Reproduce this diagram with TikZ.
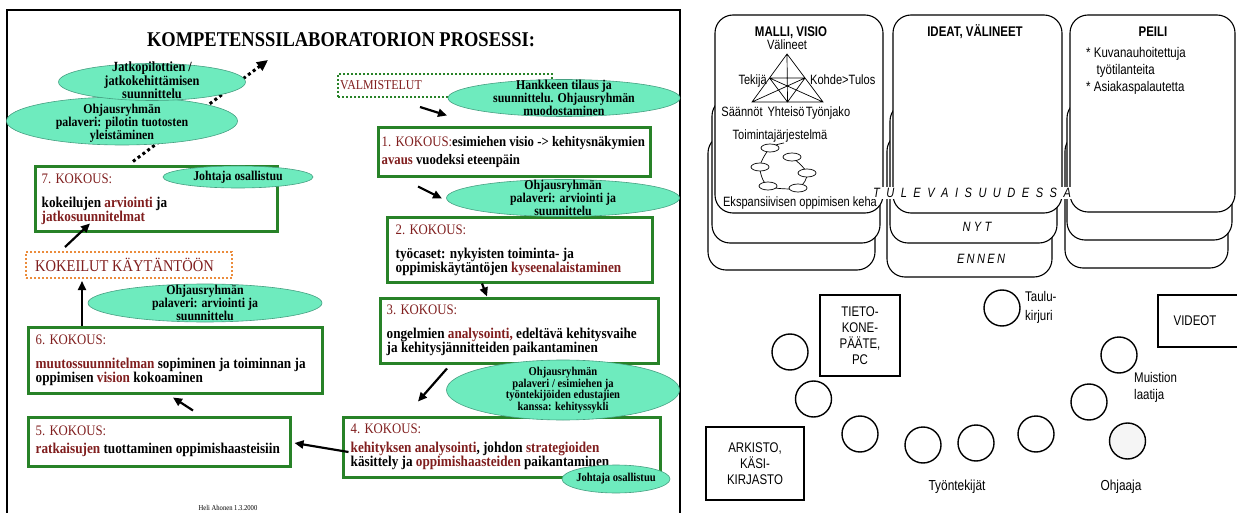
\documentclass[tikz,border=0pt]{standalone}
\usepackage{fontspec}
\setmainfont{Liberation Serif}[FakeStretch=0.88]
\newfontfamily\roomfont{Liberation Sans}[FakeStretch=0.82]
\usetikzlibrary{arrows.meta,shapes.geometric}

\definecolor{kokred}{RGB}{128,30,30}
\definecolor{kokgreen}{RGB}{40,130,40}
\definecolor{bubblefill}{RGB}{110,235,190}
\definecolor{bubbleedge}{RGB}{70,160,130}
\definecolor{dotorange}{RGB}{235,140,60}

\newcommand{\kr}[1]{\textcolor{kokred}{#1}}
\newcommand{\khead}[1]{\textcolor{kokred}{\mdseries\fontsize{14.5}{14}\selectfont #1}}

\begin{document}
\begin{tikzpicture}[x=1pt, y=-1pt,
  kbox/.style={draw=kokgreen, line width=3pt, fill=white, inner sep=0pt},
  ktext/.style={anchor=west, align=left, inner sep=0pt, font=\fontsize{15}{14}\selectfont\bfseries},
  dotbox/.style={line width=2pt, dash pattern=on 2pt off 2pt, inner sep=0pt},
  bubble/.style={ellipse, draw=bubbleedge, fill=bubblefill, line width=0.6pt, inner sep=0pt},
  btext/.style={align=center, inner sep=0pt, font=\fontsize{13.5}{13}\selectfont\bfseries},
  arr/.style={-{Triangle[length=9pt,width=8pt]}, line width=2.2pt},
  dotarr/.style={-{Triangle[length=11pt,width=10pt]}, line width=3pt, dash pattern=on 3pt off 3pt},
  card/.style={draw, line width=1.1pt, rounded corners=18pt, fill=white},
  rtext/.style={inner sep=0pt, font=\roomfont\fontsize{13.5}{16}\selectfont},
  rbold/.style={inner sep=0pt, anchor=base, font=\roomfont\bfseries\fontsize{14}{16}\selectfont},
  rital/.style={inner sep=0pt, anchor=base, font=\roomfont\itshape\fontsize{13.5}{16}\selectfont},
  seat/.style={circle, draw, line width=1.4pt, minimum size=36pt, inner sep=0pt},
  roombox/.style={draw, line width=1.8pt, align=center, inner sep=0pt, font=\roomfont\fontsize{14}{16}\selectfont},
  ring/.style={ellipse, draw, fill=white, line width=0.7pt, minimum width=18pt, minimum height=8pt, inner sep=0pt}]

\useasboundingbox (0,0) rectangle (1237,513);
\clip (0,0) rectangle (1237,513);
\fill[white] (0,0) rectangle (1237,513);

% ---------- process (left) ----------
\draw[line width=1.8pt] (7,530) -- (7,10) -- (680,10) -- (680,530);
\node[inner sep=0pt, anchor=base, font=\fontsize{21}{21}\selectfont\bfseries] (title) at (341,47) {KOMPETENSSILABORATORION PROSESSI:};

\node[kbox, minimum width=272pt, minimum height=49pt] (b1) at (514,152.5) {};
\node[kbox, minimum width=265pt, minimum height=64pt] (b2) at (519.5,250) {};
\node[kbox, minimum width=278pt, minimum height=65pt] (b3) at (519,330.5) {};
\node[kbox, minimum width=317pt, minimum height=60pt] (b4) at (501.5,447) {};
\node[kbox, minimum width=262pt, minimum height=49pt] (b5) at (159,441.5) {};
\node[kbox, minimum width=294pt, minimum height=66pt] (b6) at (175,360) {};
\node[kbox, minimum width=242pt, minimum height=65pt] (b7) at (156,199.5) {};

\node[ktext, font=\fontsize{14.5}{14}\selectfont\bfseries] (t1) at ([xshift=5pt]b1.west) {\khead{1. KOKOUS:}esimiehen visio -> kehitysnäkymien\\[4pt]\kr{avaus} vuodeksi eteenpäin};
\node[ktext] (t2) at ([xshift=10pt]b2.west) {\khead{2. KOKOUS:}\\[10pt]työcaset: nykyisten toiminta- ja\\oppimiskäytäntöjen \kr{kyseenalaistaminen}};
\node[ktext] (t3) at ([xshift=8pt]b3.west) {\khead{3. KOKOUS:}\\[10pt]ongelmien \kr{analysointi,} edeltävä kehitysvaihe\\ja kehitysjännitteiden paikantaminen};
\node[ktext] (t4) at ([xshift=9pt]b4.west) {\khead{4. KOKOUS:}\\[5pt]\kr{kehityksen analysointi}, johdon \kr{strategioiden}\\käsittely ja \kr{oppimishaasteiden} paikantaminen};
\node[ktext] (t5) at ([xshift=9pt]b5.west) {\khead{5. KOKOUS:}\\[4pt]\kr{ratkaisujen} tuottaminen oppimishaasteisiin};
\node[ktext] (t6) at ([xshift=9pt]b6.west) {\khead{6. KOKOUS:}\\[10pt]\kr{muutossuunnitelman} sopiminen ja toiminnan ja\\oppimisen \kr{vision} kokoaminen};
\node[ktext] (t7) at ([xshift=8pt]b7.west) {\khead{7. KOKOUS:}\\[10pt]kokeilujen \kr{arviointi} ja\\\kr{jatkosuunnitelmat}};

\node[dotbox, draw=kokgreen, minimum width=214pt, minimum height=23pt] (valm) at (445,85.5) {};
\node[anchor=west, inner sep=0pt, text=kokred, font=\fontsize{13.5}{14}\selectfont] (valmt) at ([xshift=3pt]valm.west) {VALMISTELUT};
\node[dotbox, draw=dotorange, minimum width=206pt, minimum height=26pt] (kok) at (129,265) {};
\node[anchor=west, inner sep=0pt, text=kokred, font=\fontsize{16.5}{17}\selectfont] (kokt) at ([xshift=10pt]kok.west) {KOKEILUT KÄYTÄNTÖÖN};

\coordinate (jatkoend) at (268,60);
\draw[dotarr] ([shift={(-23,-4)}]b7.north) -- (jatkoend);

\draw[arr] ([shift={(-25,9)}]valm.south) -- ([shift={(-67,-11)}]b1.north);
\draw[arr] ([shift={(-96,8)}]b1.south) -- ([shift={(-77.5,-18)}]b2.north);
\draw[arr] ([shift={(-37.5,0)}]b2.south) -- ([shift={(-32,0)}]b3.north);
\draw[arr] ([shift={(-72,4)}]b3.south) -- ([shift={(-83.5,-14)}]b4.north);
\draw[arr] ([shift={(7,5)}]b4.west) -- ([shift={(3,1.5)}]b5.east);
\draw[arr] ([shift={(34,-5)}]b5.north) -- ([shift={(-2,3)}]b6.south);
\draw[arr] ([shift={(-93,0)}]b6.north) -- ([shift={(-47,2)}]kok.south);
\draw[arr] ([shift={(-64,-4)}]kok.north) -- ([shift={(-66,-10)}]b7.south);

\node[bubble, minimum width=231pt, minimum height=48pt] (pilot) at (122,121) {};
\node[btext] (pilott) at (122,123) {Ohjausryhmän\\palaveri: pilotin tuotosten\\yleistäminen};
\node[bubble, minimum width=187pt, minimum height=37pt] (jatko) at (152,82) {};
\node[btext, font=\fontsize{14}{12.5}\selectfont\bfseries] (jatkot) at (152,80.5) {Jatkopilottien /\\jatkokehittämisen\\suunnittelu};
\node[bubble, minimum width=150pt, minimum height=22pt] (joht7) at (238,177) {};
\node[btext] (joht7t) at (joht7) {Johtaja osallistuu};
\node[bubble, minimum width=232pt, minimum height=37pt] (hank) at (564,98) {};
\node[btext] (hankt) at (hank) {Hankkeen tilaus ja\\suunnittelu. Ohjausryhmän\\muodostaminen};
\node[bubble, minimum width=233pt, minimum height=37pt] (pal2) at (563,198) {};
\node[btext] (pal2t) at (pal2) {Ohjausryhmän\\palaveri: arviointi ja\\suunnittelu};
\node[bubble, minimum width=234pt, minimum height=38pt] (pal6) at (205,303) {};
\node[btext] (pal6t) at (pal6) {Ohjausryhmän\\palaveri: arviointi ja\\suunnittelu};
\node[bubble, minimum width=233pt, minimum height=60pt] (sykli) at (563,390) {};
\node[btext, font=\fontsize{12}{11.5}\selectfont\bfseries] (syklit) at (sykli) {Ohjausryhmän\\palaveri / esimiehen ja\\työntekijöiden edustajien\\kanssa: kehityssykli};
\node[bubble, minimum width=108pt, minimum height=28pt] (joht4) at (616,479) {};
\node[btext, font=\fontsize{12}{12}\selectfont\bfseries] (joht4t) at (joht4) {Johtaja osallistuu};

\node[inner sep=0pt, font=\fontsize{7.5}{8}\selectfont] (sign) at (228,508) {Heli Ahonen 1.3.2000};

% ---------- room (right) ----------
\foreach \xa/\xb/\ya/\yb in {708/875/135/270, 712/880/98/243, 715/883/15/213,
                             887/1052/133/277, 890/1057/103/243, 893/1062/15/213,
                             1065/1228/133/268, 1067/1232/100/240, 1070/1235/15/212}
  \draw[card] (\xa,\ya) rectangle (\xb,\yb);

\node[rbold] (malli) at (791,37) {MALLI, VISIO};
\node[rbold] (ideat) at (975,37) {IDEAT, VÄLINEET};
\node[rbold] (peili) at (1153,37) {PEILI};
\node[rtext, anchor=north west, align=left, font=\roomfont\fontsize{14}{17}\selectfont] (peilit) at (1086,47) {* Kuvanauhoitettuja\\\hspace*{0.75em}työtilanteita\\* Asiakaspalautetta};

% activity triangle
\coordinate (tv) at (787,54);
\coordinate (ts) at (752,102);
\coordinate (tt) at (823,102);
\coordinate (tl) at (769.5,78);
\coordinate (tk) at (805,78);
\coordinate (ty) at (787.5,102);
\draw[line width=0.7pt] (tv) -- (ts) -- (tt) -- cycle (tl) -- (tk) (tv) -- (ty)
  (tl) -- (ty) -- (tk) (tl) -- (tt) (tk) -- (ts);
\node[rtext, anchor=base] (lv) at (787,49.5) {Välineet};
\node[rtext, anchor=base east] (lt) at (767,84.5) {Tekijä};
\node[rtext, anchor=base west] (lk) at (810,84.5) {Kohde>Tulos};
\node[rtext, anchor=base] (ls) at (742,116.5) {Säännöt};
\node[rtext, anchor=base] (ly) at (786,116.5) {Yhteisö};
\node[rtext, anchor=base] (lj) at (828,116.5) {Työnjako};
\node[rtext, anchor=base] (ltj) at (780,139.5) {Toimintajärjestelmä};

% expansive cycle
\draw[line width=0.7pt] plot[smooth] coordinates {(792,157) (807,173) (798,188) (768,186) (760,167) (770,148) (784,143)};
\foreach \x/\y [count=\i] in {770/148, 792/157, 760/167, 807/173, 768/186, 798/188}
  \node[ring] (ring\i) at (\x,\y) {};
\node[rtext, anchor=base] (lek) at (800,206.5) {Ekspansiivisen oppimisen kehä};

\node[rital, fill=white, inner sep=1pt] (tulev) at (972,197.5) {\makebox[198pt][s]{T U L E V A I S U U D E S S A}};
\node[rital] (nyt) at (977,231.5) {\makebox[29pt][s]{N Y T}};
\node[rital] (ennen) at (981,263) {\makebox[48pt][s]{E N N E N}};

% furniture and seats
\node[roombox, minimum width=80pt, minimum height=81pt] (pc) at (860,335.5) {TIETO-\\KONE-\\PÄÄTE,\\PC};
\node[roombox, minimum width=98pt, minimum height=73pt] (arkisto) at (755,463.5) {ARKISTO,\\KÄSI-\\KIRJASTO};
\node[roombox, minimum width=84pt, minimum height=52pt] (videot) at (1200,321) {VIDEOT\hspace*{10pt}};

\foreach \n/\x/\y in {s1/790/352, s2/813.5/399, s3/860/434, s4/923/445, s5/976/443,
                      s6/1036/434, s7/1089/402, s8/1119/355, s9/1002/308}
  \node[seat] (\n) at (\x,\y) {};
\node[seat, fill=gray!8] (ohj) at (1127.5,441) {};

\node[rtext, anchor=west, align=left, font=\roomfont\fontsize{14}{19}\selectfont] (taulu) at (1025,307) {Taulu-\\kirjuri};
\node[rtext, anchor=west, align=left, font=\roomfont\fontsize{14}{17}\selectfont] (muistio) at (1134,387) {Muistion\\laatija};
\node[rtext, anchor=base, font=\roomfont\fontsize{14.5}{16}\selectfont] (tyont) at (957,490) {Työntekijät};
\node[rtext, anchor=base, font=\roomfont\fontsize{14.5}{16}\selectfont] (ohjl) at (1121,490) {Ohjaaja};
\end{tikzpicture}
\end{document}
